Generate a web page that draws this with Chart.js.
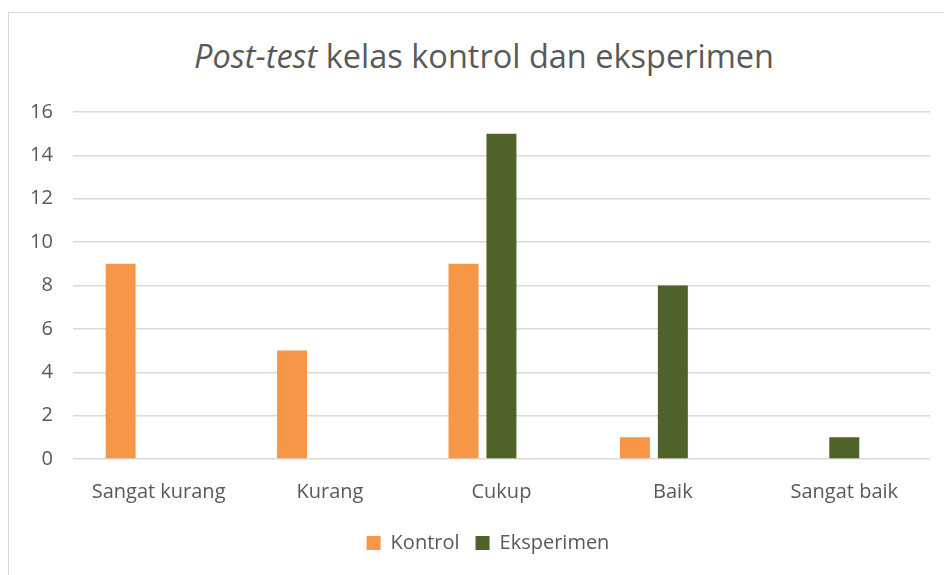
<!DOCTYPE html>
<html>
<head>
<meta charset="utf-8">
<script src="https://cdn.jsdelivr.net/npm/chart.js@4"></script>
<style>
html, body { margin: 0; padding: 0; background: #fff; overflow: hidden; }
#frame { position: absolute; left: 8px; top: 12px; width: 1000px; height: 700px; border: 1px solid #d9d9d9; box-sizing: border-box; }
#title { position: absolute; left: 0; top: 33px; width: 968px; text-align: center; font-family: "Open Sans", sans-serif; font-size: 32.5px; color: #595959; }
#chartF { position: absolute; left: 0; top: 0; }
</style>
</head>
<body>
<div id="frame"></div>
<div id="title"><i>Post-test</i> kelas kontrol dan eksperimen</div>
<canvas id="chartF" width="980" height="575"></canvas>
<script>
var categories = ["Sangat kurang", "Kurang", "Cukup", "Baik", "Sangat baik"];
var kontrol = [9, 5, 9, 1, 0];
var eksperimen = [0, 0, 15, 8, 1];
// third (empty) series in the source chart, keeps the cluster spacing
var kosong = [null, null, null, null, null];
var yTicks = [0, 2, 4, 6, 8, 10, 12, 14, 16];

var txt = '#595959';
var fnt = { family: '"Open Sans", sans-serif', size: 20 };

// the source chart is wider than the cropped picture, so the canvas runs past the right edge
var ctxB = document.getElementById("chartF").getContext('2d');
var myBarChart = new Chart(ctxB, {
type: 'bar',
data: {
labels: categories,
datasets: [{
label: "Kontrol",
data: kontrol,
backgroundColor: '#F79646',
borderWidth: 0
}, {
label: "Eksperimen",
data: eksperimen,
backgroundColor: '#4F6228',
borderWidth: 0
}, {
label: "",
data: kosong,
backgroundColor: 'rgba(0,0,0,0)',
borderWidth: 0
}]
},
options: {
responsive: false,
animation: false,
layout: { padding: { left: 10, right: 14, top: 112, bottom: 12 } },
datasets: { bar: { categoryPercentage: 0.664, barPercentage: 0.79 } },
plugins: {
legend: {
position: 'bottom',
labels: {
boxWidth: 14, boxHeight: 14, color: txt, font: fnt, padding: 16,
filter: function (item) { return item.text !== ""; }
}
},
tooltip: { enabled: false }
},
scales: {
x: {
grid: { display: false },
border: { display: false },
ticks: { color: txt, font: fnt, padding: 13 }
},
y: {
min: 0,
max: 16,
afterBuildTicks: function (axis) { axis.ticks = yTicks.map(function (v) { return { value: v }; }); },
grid: { color: '#d9d9d9', lineWidth: 1.5, drawTicks: false },
border: { display: false },
ticks: { color: txt, font: fnt, padding: 20 }
},
// empty right margin of the plot area
yR: {
position: 'right',
min: 0,
max: 16,
grid: { display: false },
border: { display: false },
ticks: { display: false },
afterFit: function (axis) { axis.width = 36; }
}
}
}
});
</script>
</body>
</html>
